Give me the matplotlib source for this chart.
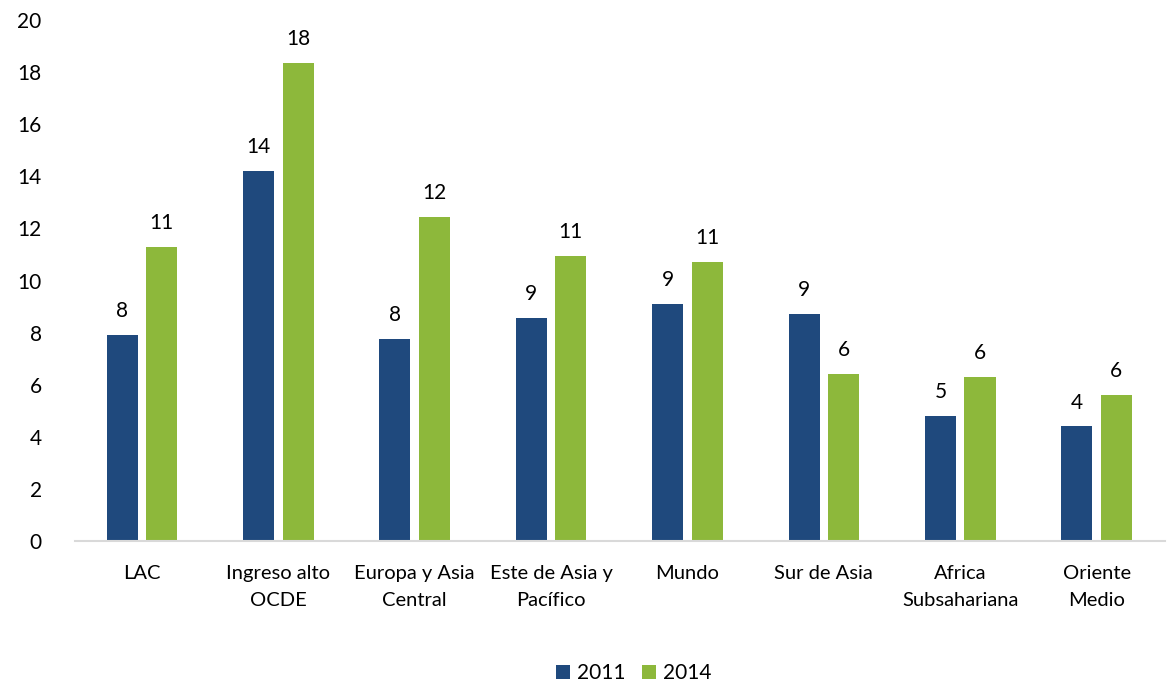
import matplotlib.pyplot as plt
import numpy as np

plt.rcParams['font.family'] = ['Lato', 'DejaVu Sans']

# datos
regiones = ["LAC", "Ingreso alto\nOCDE", "Europa y Asia\nCentral", "Este de Asia y\nPacífico",
            "Mundo", "Sur de Asia", "Africa\nSubsahariana", "Oriente\nMedio"]
valores_2011 = [7.9, 14.2, 7.75, 8.55, 9.1, 8.7, 4.8, 4.4]
valores_2014 = [11.3, 18.35, 12.45, 10.95, 10.7, 6.4, 6.3, 5.6]
etiquetas_y = [0, 2, 4, 6, 8, 10, 12, 14, 16, 18, 20]

azul = "#1F497D"
verde = "#8DB83B"

fig = plt.figure(figsize=(11.73, 6.85), dpi=100)
ax = fig.add_axes([0.064, 0.2102, 0.929, 0.7606])

x = np.arange(len(regiones))
ancho = 0.228
b1 = ax.bar(x - 0.145, valores_2011, ancho, color=azul, label="2011")
b2 = ax.bar(x + 0.145, valores_2014, ancho, color=verde, label="2014")

for barras in (b1, b2):
    ax.bar_label(barras, labels=[f"{v:.0f}" for v in barras.datavalues],
                 padding=10, fontsize=15, color="black")

ax.set_ylim(0, 20)
ax.set_xlim(-0.49, 7.5)
ax.set_yticks(etiquetas_y)
ax.tick_params(axis="y", length=0, labelsize=15, pad=24)
ax.set_xticks(x)
ax.set_xticklabels(regiones, fontsize=14.5, linespacing=1.75)
ax.tick_params(axis="x", length=0, pad=17)
for s in ("top", "right", "left"):
    ax.spines[s].set_visible(False)
ax.spines["bottom"].set_color("#D9D9D9")
ax.spines["bottom"].set_linewidth(1.5)

fig.legend(handles=[b1, b2], loc="center", bbox_to_anchor=(0.54, 0.017), ncol=2,
           frameon=False, fontsize=15, handlelength=0.7, handleheight=0.7,
           handletextpad=0.3, columnspacing=0.8)

fig.savefig("out.png", dpi=100)
